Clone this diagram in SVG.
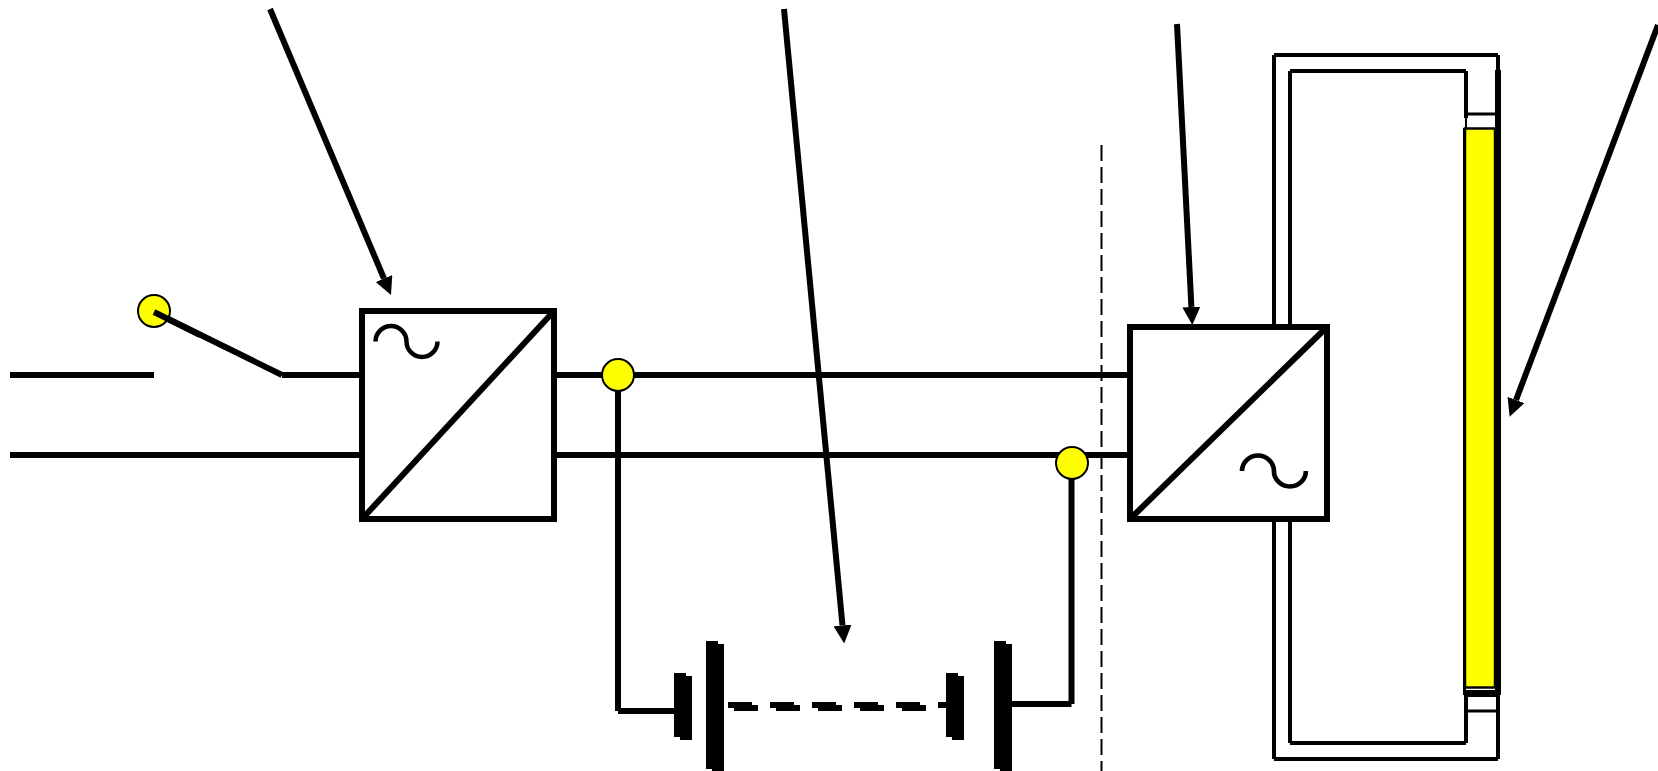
<svg xmlns="http://www.w3.org/2000/svg" width="1658" height="771" viewBox="0 0 1658 771">
<style>
.w{fill:none;stroke:#000;stroke-width:6}
.a{fill:none;stroke:#000;stroke-width:6;marker-end:url(#ah)}
.t{fill:none;stroke:#000;stroke-width:4}
.h{fill:none;stroke:#000;stroke-width:3}
.p{fill:#000;stroke:none}
.n{fill:#ff0;stroke:#000;stroke-width:2}
.b{fill:#fff;stroke:#000;stroke-width:6}
</style>
<defs>
<path id="wave" d="M0 15.5A15.5 15.5 0 0 1 31 15.5A15.5 15.5 0 0 0 62 15.5" fill="none" stroke="#000" stroke-width="4.500"/>
<marker id="ah" markerUnits="userSpaceOnUse" markerWidth="18" markerHeight="18" refX="0" refY="9" orient="auto"><path d="M0 0L18 9L0 18Z" fill="#000"/></marker>
</defs>
<rect width="1658" height="771" fill="#fff"/>
<g id="connectors">
<path class="w" d="M10 375H154M282 375H362M10 455H362M554 375H1130M554 455H1130"/>
<path class="w" d="M154 312L282 375"/>
<path class="w" d="M618 390V711M618 711H676"/>
<path class="w" d="M1071.5 478V704M1071.5 704H1012"/>
<path d="M1101.500 145V771" fill="none" stroke="#000" stroke-width="2" stroke-dasharray="16 6"/>
<path class="a" d="M270 9L384 278.500"/>
<path class="a" d="M784 9L842.500 625.500"/>
<path class="a" d="M1177 24L1191.400 307"/>
<path class="a" d="M1658 25L1516 400"/>
</g>
<g id="panel">
<path class="t" d="M1274 55H1498M1274 55V327M1274 519V759M1274 759H1498M1498 55V71M1498 694V759"/>
<path class="t" d="M1290 71H1466M1290 71V327M1290 519V743M1290 743H1466M1466 71V118M1466 694V743"/>
<path class="h" d="M1466 114H1498M1466 695.500H1498M1466 711H1498"/>
<path d="M1466 118V128" fill="none" stroke="#000" stroke-width="2"/>
<rect x="1465" y="128.500" width="30" height="559" fill="#ff0" stroke="#000" stroke-width="2.500"/>
<rect x="1495" y="70" width="6" height="625" fill="#000"/>
<rect x="1463" y="128" width="3" height="567" fill="#000"/>
<rect x="1463" y="690" width="38" height="4" fill="#000"/>
</g>
<g id="converter-left">
<rect class="b" x="362" y="311" width="192" height="208"/>
<path class="w" d="M362 519L554 311"/>
<use href="#wave" x="375.500" y="326"/>
</g>
<g id="converter-right">
<rect class="b" x="1130" y="327" width="197" height="192"/>
<path class="w" d="M1130 519L1327 327"/>
<use href="#wave" transform="translate(1242 455.500) scale(1.03 1)"/>
</g>
<g id="battery">
<path class="p" d="M674 673H686V676H692V740H680V737H674Z"/>
<path class="p" d="M706 641H718V644H724V771H712V769H706Z"/>
<path class="p" d="M946 673H958V676H964V740H952V737H946Z"/>
<path class="p" d="M994 641H1006V644H1012V771H1000V769H994Z"/>
<path class="p" d="M728 702H752V705H758V711H734V708H728Z"/>
<path class="p" d="M770 702H794V705H800V711H776V708H770Z"/>
<path class="p" d="M812 702H836V705H842V711H818V708H812Z"/>
<path class="p" d="M854 702H878V705H884V711H860V708H854Z"/>
<path class="p" d="M896 702H920V705H926V711H902V708H896Z"/>
<path class="p" d="M938 702H946V708H938Z"/>
</g>
<g id="node-switch"><circle class="n" cx="154" cy="311" r="16"/><path class="w" d="M154 312L200 335"/></g>
<g id="node-dc-plus"><circle class="n" cx="618" cy="375" r="16"/></g>
<g id="node-dc-minus"><circle class="n" cx="1072" cy="463" r="16"/></g>
</svg>
